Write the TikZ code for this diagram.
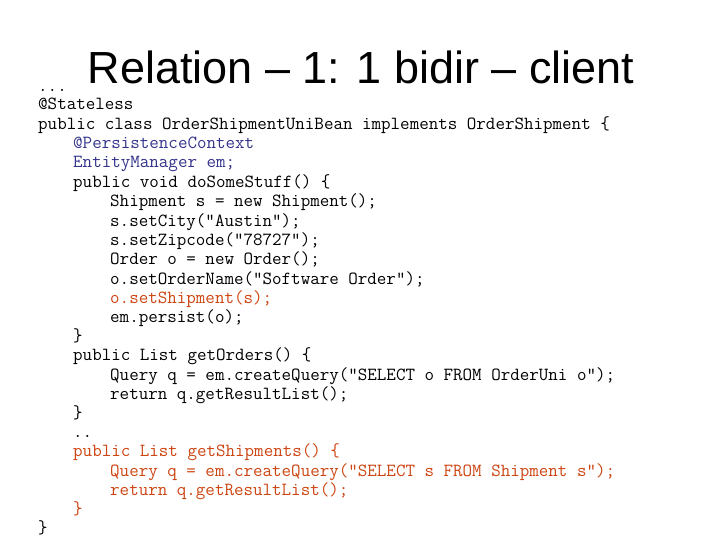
\documentclass[tikz,border=0pt]{standalone}
\usepackage{fontspec}
\setmainfont{Liberation Sans}
\definecolor{code_blue}{RGB}{51, 51, 140}
\definecolor{code_red}{RGB}{204, 68, 17}
\usetikzlibrary{positioning}
\begin{document}
\begin{tikzpicture}[x=1pt, y=1pt,
    codeline/.style={anchor=base west, inner sep=0pt,
                     font=\fontsize{18.5}{19}\ttfamily}]
  \useasboundingbox (0,0) rectangle (720,-540);
  \node[anchor=base, inner sep=0pt, font=\fontsize{45}{50}\selectfont]
    (title) at (361,-84) {Relation – 1: 1 bidir – client};
  \node[codeline] (dots) at (38,-92) {...};
  % code lines, one per baseline
  \node[codeline] (l1) at (38,-110) {@Stateless};
  \node[codeline] (l2) at (38,-130) {public class OrderShipmentUniBean implements OrderShipment \{};
  \node[codeline, code_blue] (l3) at (73,-149) {@PersistenceContext};
  \node[codeline, code_blue] (l4) at (73,-168) {EntityManager em;};
  \node[codeline] (l5) at (73,-188) {public void doSomeStuff() \{};
  \node[codeline] (l6) at (110,-207) {Shipment s = new Shipment();};
  \node[codeline] (l7) at (110,-226) {s.setCity(“Austin”);};
  \node[codeline] (l8) at (110,-245) {s.setZipcode(“78727”);};
  \node[codeline] (l9) at (110,-264) {Order o = new Order();};
  \node[codeline] (l10) at (110,-284) {o.setOrderName(“Software Order”);};
  \node[codeline, code_red] (l11) at (110,-303) {o.setShipment(s);};
  \node[codeline] (l12) at (110,-322) {em.persist(o);};
  \node[codeline] (l13) at (73,-341) {\}};
  \node[codeline] (l14) at (73,-360) {public List getOrders() \{};
  \node[codeline] (l15) at (110,-380) {Query q = em.createQuery(“SELECT o FROM OrderUni o”);};
  \node[codeline] (l16) at (110,-399) {return q.getResultList();};
  \node[codeline] (l17) at (73,-418) {\}};
  \node[codeline] (l18) at (73,-437) {..};
  \node[codeline, code_red] (l19) at (73,-456) {public List getShipments() \{};
  \node[codeline, code_red] (l20) at (110,-476) {Query q = em.createQuery(“SELECT s FROM Shipment s”);};
  \node[codeline, code_red] (l21) at (110,-495) {return q.getResultList();};
  \node[codeline, code_red] (l22) at (73,-514) {\}};
  \node[codeline] (l23) at (38,-533) {\}};
\end{tikzpicture}
\end{document}
